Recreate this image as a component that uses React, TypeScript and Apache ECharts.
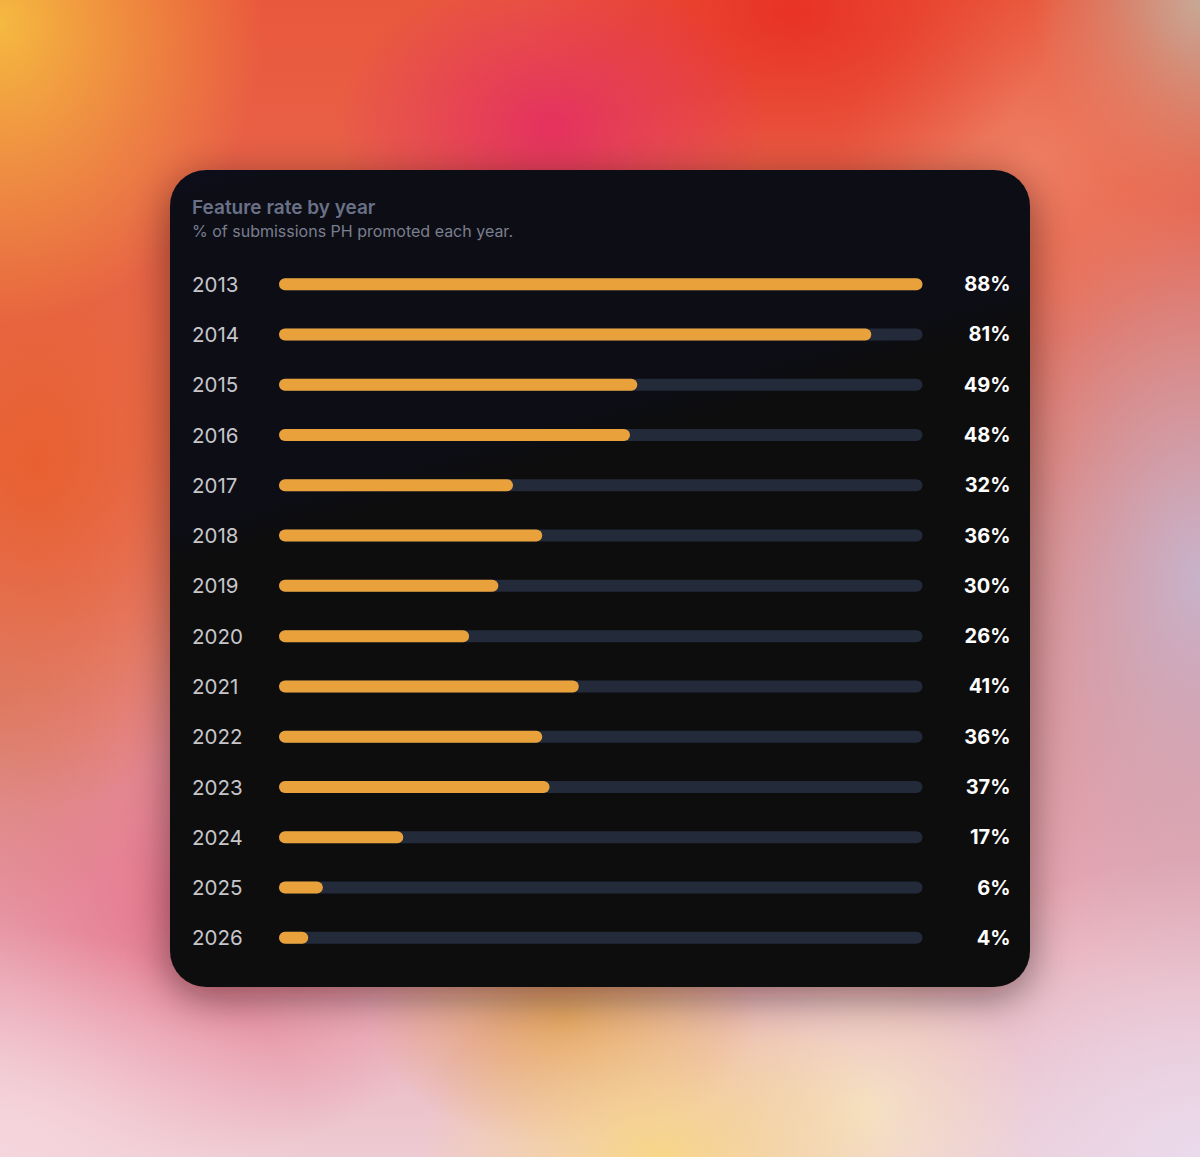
import React, { useEffect, useRef } from "react";
import * as echarts from "echarts";

const years = ["2013", "2014", "2015", "2016", "2017", "2018", "2019", "2020", "2021", "2022", "2023", "2024", "2025", "2026"];
const rates = [88, 81, 49, 48, 32, 36, 30, 26, 41, 36, 37, 17, 6, 4];
const rateLabels = rates.map((v) => v + "%");
const titleText = "Feature rate by year";
const subtitleText = "% of submissions PH promoted each year.";

const FONT = "Inter, 'Noto Sans', sans-serif";

const bg = [
  "radial-gradient(ellipse 22% 26% at 0% 2%, rgba(245,185,64,1) 0%, rgba(245,185,64,0) 100%)",
  "radial-gradient(ellipse 18% 14% at 46% 11%, rgba(228,46,96,0.95) 0%, rgba(228,46,96,0) 100%)",
  "radial-gradient(ellipse 22% 16% at 66% 1%, rgba(232,50,38,1) 0%, rgba(232,50,38,0) 100%)",
  "radial-gradient(ellipse 16% 16% at 86% 14%, rgba(238,128,100,0.9) 0%, rgba(238,128,100,0) 100%)",
  "radial-gradient(ellipse 14% 18% at 100% 0%, rgba(200,168,150,1) 0%, rgba(200,168,150,0) 100%)",
  "radial-gradient(ellipse 22% 35% at 100% 50%, rgba(200,178,202,1) 0%, rgba(200,178,202,0) 100%)",
  "radial-gradient(ellipse 20% 30% at 3% 40%, rgba(232,96,48,1) 0%, rgba(232,96,48,0) 100%)",
  "radial-gradient(ellipse 14% 20% at 0% 60%, rgba(214,130,112,0.8) 0%, rgba(214,130,112,0) 100%)",
  "radial-gradient(ellipse 26% 20% at 0% 100%, rgba(246,214,222,1) 0%, rgba(246,214,222,0) 100%)",
  "radial-gradient(ellipse 20% 16% at 55% 100%, rgba(247,214,136,1) 0%, rgba(247,214,136,0) 100%)",
  "radial-gradient(ellipse 16% 11% at 47% 88%, rgba(226,158,92,1) 0%, rgba(226,158,92,0) 100%)",
  "radial-gradient(ellipse 14% 14% at 72% 96%, rgba(246,228,196,0.9) 0%, rgba(246,228,196,0) 100%)",
  "radial-gradient(ellipse 28% 26% at 100% 100%, rgba(234,218,236,1) 0%, rgba(234,218,236,0) 100%)",
  "radial-gradient(ellipse 26% 22% at 16% 78%, rgba(230,112,136,0.9) 0%, rgba(230,112,136,0) 100%)",
  "linear-gradient(180deg, #e9583c 0%, #e6705c 40%, #e6a2ac 75%, #eecad2 100%)",
].join(",");

export default function App() {
  const ref = useRef<HTMLDivElement>(null);

  useEffect(() => {
    if (!ref.current) return;
    const chart = echarts.init(ref.current, undefined, { renderer: "svg" });
    const maxV = Math.max(...rates);
    chart.setOption({
      animation: false,
      backgroundColor: "transparent",
      graphic: [
        {
          type: "rect",
          z: -10,
          shape: { x: 170, y: 170, width: 860, height: 817, r: 36 },
          style: {
            fill: {
              type: "linear",
              x: 0,
              y: 0,
              x2: 0.3,
              y2: 1,
              colorStops: [
                { offset: 0, color: "#0b0b1a" },
                { offset: 0.5, color: "#0b0b10" },
                { offset: 1, color: "#0b0b0b" },
              ],
            },
            shadowBlur: 40,
            shadowColor: "rgba(30,0,0,0.45)",
            shadowOffsetY: 10,
          },
        },
        {
          type: "text",
          z: 10,
          x: 192,
          y: 207,
          style: {
            text: titleText,
            fill: "#6a7186",
            fontSize: 19,
            fontWeight: 600,
            fontFamily: FONT,
            verticalAlign: "middle",
            align: "left",
          },
        },
        {
          type: "text",
          z: 10,
          x: 192,
          y: 231,
          style: {
            text: subtitleText,
            fill: "#7a7f8e",
            fontSize: 16,
            fontFamily: FONT,
            verticalAlign: "middle",
            align: "left",
          },
        },
      ],
      grid: { left: 279, right: 277.5, top: 259, bottom: 1157 - 963 },
      xAxis: { type: "value", min: 0, max: maxV, show: false },
      yAxis: [
        {
          type: "category",
          inverse: true,
          data: years,
          axisLine: { show: false },
          axisTick: { show: false },
          splitLine: { show: false },
          axisLabel: {
            align: "left",
            margin: 87,
            color: "#c6c6cb",
            fontSize: 20.5,
            fontFamily: FONT,
          },
        },
        {
          type: "category",
          inverse: true,
          position: "right",
          data: rateLabels,
          axisLine: { show: false },
          axisTick: { show: false },
          splitLine: { show: false },
          axisLabel: {
            align: "right",
            margin: 88,
            color: "#ffffff",
            fontSize: 20,
            fontWeight: 700,
            fontFamily: FONT,
          },
        },
      ],
      series: [
        {
          type: "bar",
          yAxisIndex: 0,
          data: rates,
          barWidth: 12,
          showBackground: true,
          backgroundStyle: { color: "#232a3a", borderRadius: 6 },
          itemStyle: { color: "#e9a23b", borderRadius: 6 },
        },
      ],
    });
    return () => chart.dispose();
  }, []);

  return (
    <div
      style={{
        position: "fixed",
        left: 0,
        top: 0,
        width: 1200,
        height: 1157,
        background: bg,
        overflow: "hidden",
      }}
    >
      <div ref={ref} style={{ width: 1200, height: 1157 }} />
    </div>
  );
}
